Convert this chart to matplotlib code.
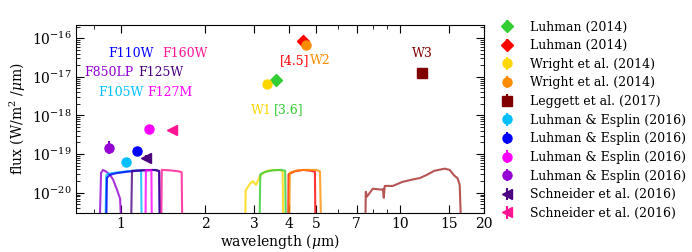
import numpy as np
import matplotlib
matplotlib.use('Agg')
import matplotlib.pyplot as plt
from matplotlib.ticker import FixedLocator, NullFormatter, LogFormatterMathtext

plt.rcParams['font.family'] = ['DejaVu Serif']
plt.rcParams['mathtext.fontset'] = 'dejavuserif'

BOT = 1e-22  # zero transmission, falls below the axis

# photometry: wavelength (um), flux (W/m2/um), lower err, upper err
phot_labels = ['Luhman (2014)', 'Luhman (2014)', 'Wright et al. (2014)', 'Wright et al. (2014)',
               'Leggett et al. (2017)', 'Luhman & Esplin (2016)', 'Luhman & Esplin (2016)',
               'Luhman & Esplin (2016)', 'Luhman & Esplin (2016)', 'Schneider et al. (2016)',
               'Schneider et al. (2016)']
phot_wave = [3.6, 4.5, 3.35, 4.6, 12.0, 1.04, 1.14, 1.26, 0.906, 1.23, 1.52]
phot_flux = [8.3e-18, 8.3e-17, 6.6e-18, 6.6e-17, 1.26e-17, 6.3e-20, 1.2e-19, 4.5e-19, 1.45e-19, 8.0e-20, 4.2e-19]
phot_elo = [0.3e-18, 3e-18, 1.8e-18, 0.5e-17, 0.4e-17, 0.2e-20, 0.3e-20, 0.1e-19, 0.47e-19, 0.15e-19, 0.2e-19]
phot_ehi = [0.3e-18, 3e-18, 0.2e-18, 0.5e-17, 0.1e-17, 0.2e-20, 0.3e-20, 0.1e-19, 0.70e-19, 0.15e-19, 0.2e-19]
phot_colors = ['limegreen', 'red', 'gold', 'darkorange', 'maroon', 'deepskyblue', 'blue',
               'magenta', 'darkviolet', 'indigo', 'deeppink']
phot_markers = ['D', 'D', 'o', 'o', 's', 'o', 'o', 'o', 'o', '<', '<']

# filter curves scaled onto the flux axis
f850lp_w = [0.83, 0.848, 0.862, 0.885, 0.913, 0.936, 0.967, 0.992, 1.02]
f850lp_f = [BOT, 3.3e-20, 3.9e-20, 3.5e-20, 2.9e-20, 2.2e-20, 1.2e-20, 7e-21, BOT]
f105w_w = [0.875, 0.885, 0.898, 0.95, 1.05, 1.15, 1.18, 1.19]
f105w_f = [BOT, 2.8e-20, 3.1e-20, 3.3e-20, 3.6e-20, 3.8e-20, 3.7e-20, BOT]
f110w_w = [0.88, 0.89, 0.91, 0.96, 1.05, 1.2, 1.33, 1.37, 1.385]
f110w_f = [BOT, 2.4e-20, 2.9e-20, 3.2e-20, 3.5e-20, 3.8e-20, 3.9e-20, 3.6e-20, BOT]
f125w_w = [1.08, 1.095, 1.2, 1.3, 1.37, 1.385]
f125w_f = [BOT, 3.7e-20, 3.8e-20, 3.9e-20, 3.7e-20, BOT]
f127m_w = [1.22, 1.228, 1.285, 1.293]
f127m_f = [BOT, 3.8e-20, 3.8e-20, BOT]
f160w_w = [1.39, 1.40, 1.5, 1.6, 1.65, 1.665]
f160w_f = [BOT, 3.9e-20, 3.8e-20, 3.6e-20, 3.4e-20, BOT]
w1_w = [2.77, 2.80, 2.90, 2.97, 3.05, 3.15, 3.23, 3.4, 3.7, 3.80, 3.83]
w1_f = [BOT, 1.15e-20, 1.7e-20, 2.0e-20, 1.6e-20, 2.7e-20, 3.3e-20, 3.8e-20, 3.9e-20, 3.6e-20, BOT]
irac1_w = [3.12, 3.16, 3.3, 3.5, 3.75, 3.88, 3.92]
irac1_f = [BOT, 3.0e-20, 3.5e-20, 3.8e-20, 3.9e-20, 3.7e-20, BOT]
irac2_w = [3.97, 3.99, 4.2, 4.5, 4.8, 4.96, 5.0]
irac2_f = [BOT, 3.0e-20, 3.6e-20, 3.9e-20, 3.7e-20, 3.5e-20, BOT]
w2_w = [4.0, 4.03, 4.3, 4.6, 5.0, 5.17, 5.26]
w2_f = [BOT, 3.3e-20, 3.8e-20, 3.9e-20, 3.9e-20, 3.6e-20, BOT]
w3_w = [7.49, 7.55, 7.62, 8.0, 8.61, 8.70, 8.76, 8.83, 9.44, 10.2, 11.1, 11.8, 12.5,
        13.3, 14.5, 15.1, 15.7, 16.1, 16.4, 16.8]
w3_f = [BOT, 1.06e-20, 7.9e-21, 1.27e-20, 1.2e-20, 1.25e-20, 7.4e-21, 1.5e-20, 1.5e-20,
        1.9e-20, 2.2e-20, 2.4e-20, 2.9e-20, 3.7e-20, 4.2e-20, 3.9e-20, 2.75e-20, 2.4e-20, 1.6e-20, BOT]

curves = [(f850lp_w, f850lp_f, 'darkviolet'), (f105w_w, f105w_f, 'deepskyblue'),
          (f110w_w, f110w_f, 'blue'), (f125w_w, f125w_f, 'indigo'),
          (f127m_w, f127m_f, 'magenta'), (f160w_w, f160w_f, 'deeppink'),
          (w1_w, w1_f, 'gold'), (irac1_w, irac1_f, 'limegreen'),
          (irac2_w, irac2_f, 'red'), (w2_w, w2_f, 'darkorange'), (w3_w, w3_f, 'brown')]

# filter name labels: text, x, y, colour
names = ['F110W', 'F160W', 'F850LP', 'F125W', 'F105W', 'F127M', '[4.5]', 'W2', 'W1', '[3.6]', 'W3']
names_x = [1.09, 1.69, 0.906, 1.39, 0.996, 1.50, 4.2, 5.17, 3.2, 4.0, 12.05]
names_y = [3.9e-17, 3.9e-17, 1.32e-17, 1.32e-17, 4.0e-18, 4.0e-18, 2.7e-17, 2.7e-17, 1.38e-18, 1.38e-18, 4.1e-17]
names_c = ['blue', 'deeppink', 'darkviolet', 'indigo', 'deepskyblue', 'magenta',
           'red', 'darkorange', 'gold', 'limegreen', 'maroon']

x_ticks = [1, 2, 3, 4, 5, 7, 10, 15, 20]
y_ticks = [1e-20, 1e-19, 1e-18, 1e-17, 1e-16]

fig = plt.figure(figsize=(6.92, 2.52), dpi=100)
ax = fig.add_axes([0.110, 0.155, 0.589, 0.746])

for w, f, c in curves:
    ax.plot(w, f, color=c, lw=1.5, alpha=0.8)

for i in range(len(phot_wave)):
    ax.errorbar([phot_wave[i]], [phot_flux[i]], yerr=[[phot_elo[i]], [phot_ehi[i]]],
                fmt=phot_markers[i], color=phot_colors[i], ms=6.5, elinewidth=1.5,
                capsize=0, label=phot_labels[i])

for i in range(len(names)):
    ax.text(names_x[i], names_y[i], names[i], color=names_c[i], fontsize=9,
            ha='center', va='center')

ax.set_xscale('log')
ax.set_yscale('log')
ax.set_xlim(0.69, 20)
ax.set_ylim(3e-21, 2.2e-16)

ax.xaxis.set_major_locator(FixedLocator(x_ticks))
ax.xaxis.set_major_formatter(plt.FixedFormatter([str(t) for t in x_ticks]))
ax.xaxis.set_minor_locator(FixedLocator([0.8, 6, 8, 9]))
ax.xaxis.set_minor_formatter(NullFormatter())

y_minor = [m * t for t in [1e-21] + y_ticks for m in range(2, 10)]
y_minor = [v for v in y_minor if 3e-21 <= v <= 2.2e-16]
ax.yaxis.set_major_locator(FixedLocator(y_ticks))
ax.yaxis.set_major_formatter(LogFormatterMathtext())
ax.yaxis.set_minor_locator(FixedLocator(y_minor))
ax.yaxis.set_minor_formatter(NullFormatter())

ax.tick_params(which='both', direction='in', top=True, right=True, labelsize=10, pad=3)
ax.tick_params(which='major', length=6)
ax.tick_params(which='minor', length=3)

ax.set_xlabel(r'wavelength ($\mu$m)', fontsize=10, labelpad=1)
ax.set_ylabel(r'flux (W/m$^2$ /$\mu$m)', fontsize=10, labelpad=3)

ax.legend(loc='upper left', bbox_to_anchor=(1.0, 1.083), frameon=False, fontsize=9,
          numpoints=1, handletextpad=0.8, labelspacing=0.45)

fig.savefig('out.png', dpi=100)
